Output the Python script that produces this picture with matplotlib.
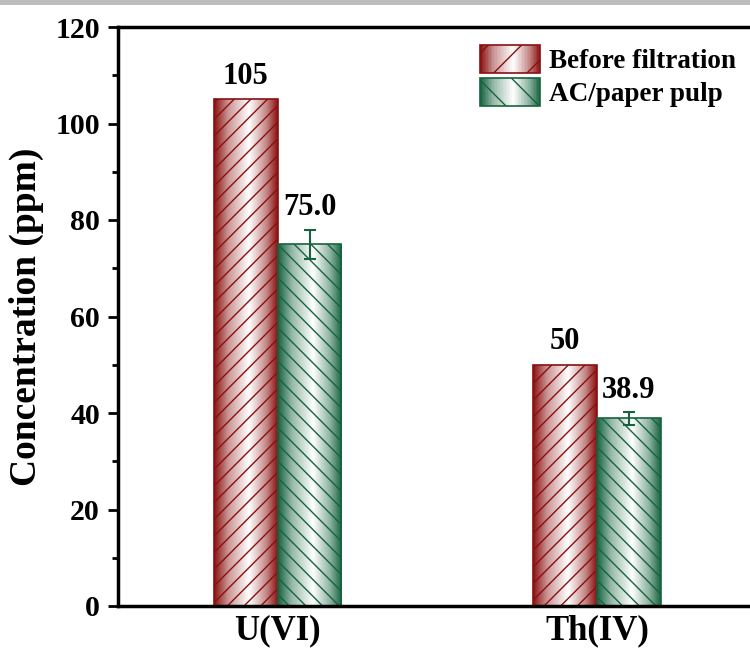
import numpy as np
import matplotlib
matplotlib.use("Agg")
import matplotlib.pyplot as plt
from matplotlib.colors import LinearSegmentedColormap, to_rgb
from matplotlib.patches import Rectangle
from matplotlib.legend_handler import HandlerBase
from matplotlib.ticker import MultipleLocator

categories = ["U(VI)", "Th(IV)"]
series_names = ["Before filtration", "AC/paper pulp"]
before_vals = [105, 50]
after_vals = [75.0, 38.9]
after_err = [3.0, 1.3]
before_labels = ["105", "50"]
after_labels = ["75.0", "38.9"]

RED = "#8a1010"
GREEN = "#17633f"

plt.rcParams['font.family'] = ['Liberation Serif', 'DejaVu Serif']
plt.rcParams['font.weight'] = 'bold'
plt.rcParams['hatch.linewidth'] = 1.0

fig = plt.figure(figsize=(7.5, 6.5), dpi=100)
fig.patch.set_facecolor('white')
fig.patches.append(Rectangle((0, 1 - 5/650), 1, 5/650, transform=fig.transFigure,
                             facecolor='#bdbdbd', edgecolor='none'))

ax = fig.add_axes([118/750, 1 - 606/650, (756.5 - 118)/750, (606 - 27)/650])

x = np.arange(1, len(categories) + 1)
w = 0.2


def mix(c, t):
    r = np.array(to_rgb(c))
    return tuple(r + (1 - r) * t)


def grad_cmap(c):
    return LinearSegmentedColormap.from_list(
        "g", [(0.0, c), (0.22, mix(c, 0.55)), (0.55, (1, 1, 1)),
              (0.82, mix(c, 0.5)), (1.0, c)])


grad = np.linspace(0, 1, 256).reshape(1, -1)


def gradient_bars(bars, color):
    cm = grad_cmap(color)
    for b in bars:
        x0, y0 = b.get_x(), b.get_y()
        im = ax.imshow(grad, cmap=cm, aspect='auto',
                       extent=[x0, x0 + b.get_width(), y0, y0 + b.get_height()],
                       zorder=1, interpolation='bilinear')
        im.set_clip_path(b)


b1 = ax.bar(x - w/2, before_vals, w, facecolor='none', edgecolor=RED,
            hatch='//', linewidth=1.2, zorder=2)
b2 = ax.bar(x + w/2, after_vals, w, facecolor='none', edgecolor=GREEN,
            hatch='\\\\', linewidth=1.2, zorder=2)
gradient_bars(b1, RED)
gradient_bars(b2, GREEN)
ax.errorbar(x + w/2, after_vals, yerr=after_err, fmt='none', ecolor=GREEN,
            elinewidth=1.5, capsize=4.5, capthick=1.5, zorder=3)

for xi, v, t in zip(x - w/2, before_vals, before_labels):
    ax.text(xi, v + 1.8, t, ha='center', va='bottom', fontsize=22, fontweight='bold')
for xi, v, e, t in zip(x + w/2, after_vals, after_err, after_labels):
    ax.text(xi, v + e + 1.5, t, ha='center', va='bottom', fontsize=22, fontweight='bold')

ax.set_xlim(0.5, 2.5)
ax.set_ylim(0, 120)
ax.set_xticks(x)
ax.set_xticklabels(categories, fontsize=25, fontweight='bold')
ax.tick_params(axis='x', length=0, pad=6)
ax.yaxis.set_major_locator(MultipleLocator(20))
ax.yaxis.set_minor_locator(MultipleLocator(10))
ax.tick_params(axis='y', which='major', length=7, width=2, labelsize=21.5,
               direction='out', pad=6)
ax.tick_params(axis='y', which='minor', length=4, width=2, direction='out')
for lab in ax.get_yticklabels():
    lab.set_fontweight('bold')
ax.set_ylabel("Concentration (ppm)", fontsize=27, fontweight='bold', labelpad=8)
for s in ax.spines.values():
    s.set_linewidth(2.5)


class GradHandler(HandlerBase):
    def __init__(self, color, hatch):
        super().__init__()
        self.color = color
        self.hatch = hatch

    def create_artists(self, legend, orig_handle, xdescent, ydescent, width, height, fontsize, trans):
        cm = grad_cmap(self.color)
        arts = []
        n = 40
        for i in range(n):
            r = Rectangle((-xdescent + width * i / n, -ydescent), width / n + 0.3, height,
                          facecolor=cm((i + 0.5) / n), edgecolor='none', transform=trans)
            arts.append(r)
        r = Rectangle((-xdescent, -ydescent), width, height, facecolor='none',
                      edgecolor=self.color, hatch=self.hatch, linewidth=1.2, transform=trans)
        arts.append(r)
        return arts


leg = ax.legend([b1, b2], series_names, loc='upper left',
                bbox_to_anchor=(357/638.5, 0.978), frameon=False,
                prop={'family': ['Liberation Serif'], 'weight': 'bold', 'size': 19.5},
                handlelength=2.2, handleheight=1.2, handletextpad=0.35,
                labelspacing=0.15, borderaxespad=0, borderpad=0.2,
                handler_map={b1: GradHandler(RED, '/'), b2: GradHandler(GREEN, '\\')})

fig.savefig("out.png", dpi=100)
